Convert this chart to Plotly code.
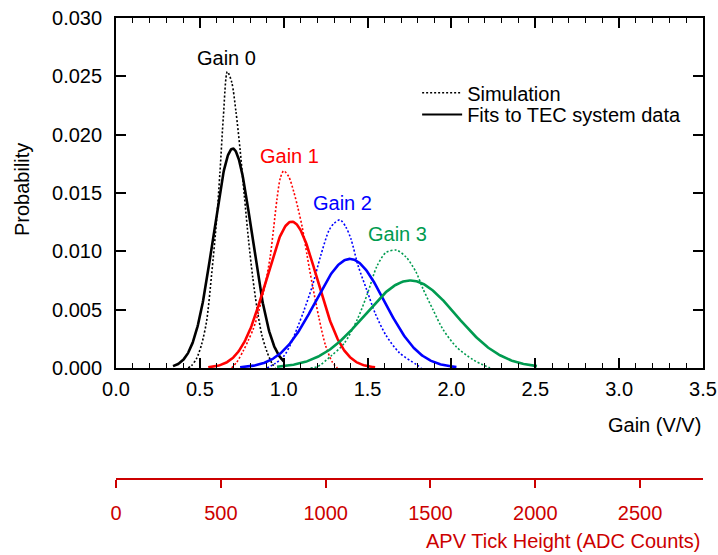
import numpy as np
import plotly.graph_objects as go

# ---------------- data ----------------
gain_names = ["Gain 0", "Gain 1", "Gain 2", "Gain 3"]
colors = ["#000000", "#FF0000", "#0000FF", "#009B50"]

# Gaussian fits to TEC system data: mean, sigma, peak probability, drawn x-extent
fit_mean = [0.696, 1.048, 1.395, 1.755]
fit_sigma = [0.115, 0.152, 0.207, 0.272]
fit_peak = [0.0188, 0.01254, 0.00935, 0.0075]
fit_xmin = [0.34, 0.55, 0.74, 0.96]
fit_xmax = [1.00, 1.545, 2.03, 2.51]

# Simulation curves
sim0_x = [0.43, 0.45, 0.48, 0.51, 0.54, 0.57, 0.60, 0.62, 0.64, 0.664, 0.69, 0.715, 0.74, 0.765, 0.79, 0.815, 0.84, 0.87, 0.90, 0.93, 0.95]
sim0_y = [0, 0.0002, 0.0008, 0.0020, 0.0040, 0.0080, 0.0127, 0.0168, 0.0215, 0.0254, 0.0245, 0.0220, 0.0187, 0.0148, 0.0110, 0.0078, 0.0052, 0.0028, 0.0014, 0.0004, 0.0]
sim1_x = [0.69, 0.72, 0.76, 0.79, 0.82, 0.85, 0.89, 0.92, 0.94, 0.96, 0.98, 1.0, 1.03, 1.06, 1.085, 1.11, 1.14, 1.17, 1.21, 1.25, 1.29, 1.32]
sim1_y = [0, 0.0005, 0.0015, 0.0024, 0.0034, 0.0048, 0.0072, 0.0096, 0.0120, 0.0145, 0.0163, 0.0169, 0.0164, 0.0151, 0.0137, 0.0121, 0.0096, 0.0072, 0.0043, 0.0019, 0.0005, 0.0]
sim2_x = [0.90, 0.95, 1.0, 1.04, 1.08, 1.12, 1.17, 1.22, 1.27, 1.30, 1.336, 1.37, 1.40, 1.445, 1.495, 1.545, 1.61, 1.69, 1.79, 1.82]
sim2_y = [0, 0.0004, 0.0010, 0.0020, 0.0034, 0.0049, 0.0070, 0.0096, 0.0118, 0.0124, 0.0127, 0.0121, 0.0111, 0.0087, 0.0067, 0.0047, 0.0028, 0.0013, 0.0003, 0]
sim3_x = [1.16, 1.20, 1.28, 1.36, 1.44, 1.50, 1.555, 1.61, 1.674, 1.73, 1.79, 1.83, 1.89, 1.95, 2.03, 2.13, 2.23]
sim3_y = [0, 0.0001, 0.0010, 0.0021, 0.0042, 0.0064, 0.0087, 0.0099, 0.0101, 0.0095, 0.0082, 0.0068, 0.0050, 0.0033, 0.0018, 0.0007, 0]
sim_x = [sim0_x, sim1_x, sim2_x, sim3_x]
sim_y = [sim0_y, sim1_y, sim2_y, sim3_y]

# label anchor positions (data coords)
label_x = [0.656, 1.037, 1.348, 1.676]
label_y = [0.02657, 0.01817, 0.01414, 0.0115]

x_ticks = [0.0, 0.5, 1.0, 1.5, 2.0, 2.5, 3.0, 3.5]
y_ticks = [0.000, 0.005, 0.010, 0.015, 0.020, 0.025, 0.030]
adc_ticks = [0, 500, 1000, 1500, 2000, 2500]
adc_range = [0, 2800]

FONT = "Liberation Sans, Arial, sans-serif"
FS = 20
RED_AXIS = "#CC0000"

fig = go.Figure()

for i in range(4):
    fig.add_trace(go.Scatter(
        x=sim_x[i], y=sim_y[i], mode="lines",
        line=dict(color=colors[i], width=1.6, dash="2px,2px", shape="spline", smoothing=0.8),
        showlegend=False, hoverinfo="skip"))

for i in range(4):
    xs = np.linspace(fit_xmin[i], fit_xmax[i], 240)
    ys = fit_peak[i] * np.exp(-0.5 * ((xs - fit_mean[i]) / fit_sigma[i]) ** 2)
    fig.add_trace(go.Scatter(
        x=xs, y=ys, mode="lines",
        line=dict(color=colors[i], width=2.6),
        showlegend=False, hoverinfo="skip"))

# legend entries (two single-entry legends for exact spacing)
fig.add_trace(go.Scatter(x=[None], y=[None], mode="lines", name="Simulation", legend="legend",
                         line=dict(color="black", width=1.4, dash="2px,2px")))
fig.add_trace(go.Scatter(x=[None], y=[None], mode="lines", name="Fits to TEC system data",
                         legend="legend2", line=dict(color="black", width=2.2)))

# invisible trace for the ADC axis
fig.add_trace(go.Scatter(x=adc_range, y=[0, 0], xaxis="x2", mode="markers",
                         marker=dict(opacity=0), showlegend=False, hoverinfo="skip"))

for i in range(4):
    fig.add_annotation(x=label_x[i], y=label_y[i], text=gain_names[i], showarrow=False,
                       font=dict(color=colors[i], size=FS, family=FONT),
                       xanchor="center", yanchor="middle")

fig.add_annotation(x=1, y=0.117, xref="paper", yref="paper", text="Gain (V/V)",
                   showarrow=False, xanchor="right", yanchor="middle",
                   font=dict(size=FS, family=FONT, color="black"))
fig.add_annotation(x=1, y=-0.1345, xref="paper", yref="paper", text="APV Tick Height (ADC Counts)",
                   showarrow=False, xanchor="right", yanchor="middle",
                   font=dict(size=FS, family=FONT, color=RED_AXIS))
fig.add_annotation(x=-0.160, y=0.627, xref="paper", yref="paper", text="Probability",
                   showarrow=False, textangle=-90, xanchor="center", yanchor="middle",
                   font=dict(size=FS, family=FONT, color="black"))

leg_common = dict(xanchor="left", yanchor="top", bgcolor="rgba(0,0,0,0)",
                  font=dict(size=FS, family=FONT), itemwidth=40, tracegroupgap=0)

fig.update_layout(
    width=718, height=555, autosize=False,
    margin=dict(l=116, r=15, t=18, b=76, autoexpand=False),
    paper_bgcolor="white", plot_bgcolor="white",
    font=dict(family=FONT, size=FS, color="black"),
    showlegend=True,
    legend=dict(x=0.513, y=0.880, **leg_common),
    legend2=dict(x=0.513, y=0.833, **leg_common),
    xaxis=dict(range=[0, 3.5], tickvals=x_ticks, ticktext=[f"{v:.1f}" for v in x_ticks],
               ticks="inside", ticklen=10, tickwidth=1.5, tickcolor="black",
               minor=dict(dtick=0.1, ticks="inside", ticklen=5, tickwidth=1.2, tickcolor="black"),
               showline=True, linecolor="black", linewidth=1.8, mirror="ticks",
               showgrid=False, zeroline=False, ticklabelstandoff=2, automargin=False),
    yaxis=dict(range=[0, 0.030], domain=[0.2408, 1], tickvals=y_ticks,
               ticktext=[f"{v:.3f}" for v in y_ticks],
               ticks="inside", ticklen=10, tickwidth=1.5, tickcolor="black",
               showline=True, linecolor="black", linewidth=1.8, mirror="ticks",
               showgrid=False, zeroline=False, ticklabelstandoff=8, automargin=False),
    xaxis2=dict(range=adc_range, overlaying="x", anchor="free", position=0, side="bottom",
                tickvals=adc_ticks, ticks="outside", ticklen=8, tickwidth=1.5,
                tickcolor=RED_AXIS, showline=True, linecolor=RED_AXIS, linewidth=1.5,
                tickfont=dict(color=RED_AXIS, size=FS, family=FONT),
                showgrid=False, zeroline=False, ticklabelstandoff=8, automargin=False),
)

post = ("document.documentElement.style.overflow='hidden';"
        "document.body.style.margin='0';document.body.style.overflow='hidden';")

fig.write_html("out.html", config={"responsive": False}, post_script=post)
